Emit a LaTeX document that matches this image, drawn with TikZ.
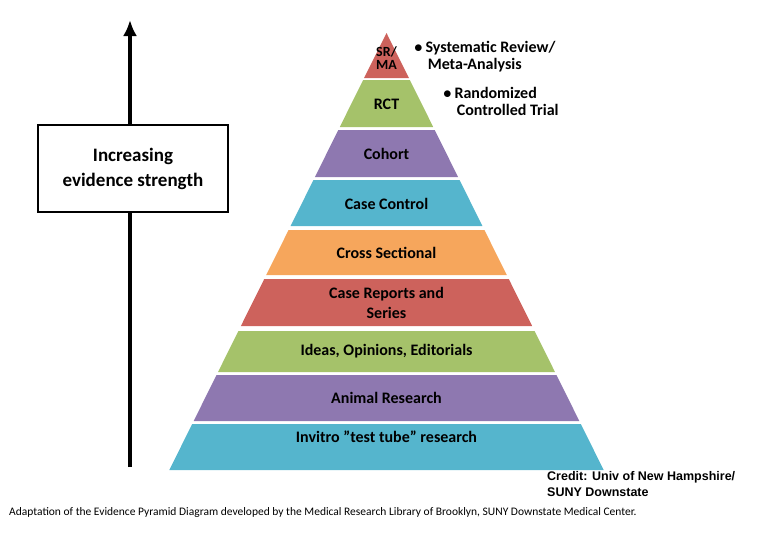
\documentclass[tikz,border=0pt]{standalone}
\usepackage{fontspec}
\usetikzlibrary{arrows.meta}
\setmainfont{Carlito}
\newfontfamily\arialf{Liberation Sans}
\definecolor{cred}{HTML}{CD625C}
\definecolor{cgreen}{HTML}{A5C26A}
\definecolor{cpurple}{HTML}{8E78B0}
\definecolor{cblue}{HTML}{55B5CD}
\definecolor{corange}{HTML}{F6A65C}
\begin{document}
\begin{tikzpicture}[x=1pt,y=-1pt,
  lbl/.style={font=\bfseries\fontsize{16}{17}\selectfont,align=center,inner sep=0pt}]
\useasboundingbox (0,0) rectangle (773,536);
\def\cx{386.5}
\foreach \t/\b/\c in {80/127/cgreen,130/177/cpurple,180/226/cblue,230/275/corange,279/326/cred,331/372/cgreen,375/421/cpurple,424/470/cblue}{
  \pgfmathsetmacro{\wt}{0.497*(\t-33)}
  \pgfmathsetmacro{\wb}{0.497*(\b-33)}
  \fill[\c] (\cx-\wt,\t) -- (\cx+\wt,\t) -- (\cx+\wb,\b) -- (\cx-\wb,\b) -- cycle;
}
\fill[cred] (\cx,33) -- (\cx+22.4,78) -- (\cx-22.4,78) -- cycle;
\node[lbl,font=\bfseries\fontsize{14}{13}\selectfont] (sr) at (\cx,58) {SR/\\MA};
\node[lbl] (rct) at (\cx,104) {RCT};
\node[lbl] (coh) at (\cx,154) {Cohort};
\node[lbl] (cc) at (\cx,204) {Case Control};
\node[lbl] (cs) at (\cx,253) {Cross Sectional};
\node[lbl,font=\bfseries\fontsize{16}{20}\selectfont] (cr) at (\cx,303) {Case Reports and\\Series};
\node[lbl] (io) at (\cx,351) {Ideas, Opinions, Editorials};
\node[lbl] (ar) at (\cx,398) {Animal Research};
\node[lbl] (iv) at (\cx,437) {Invitro "test tube" research};
\node[lbl,align=left,anchor=north west] (sys) at (414,41) {$\bullet$\,Systematic Review/\\\hspace{0.85em}Meta-Analysis};
\node[lbl,align=left,anchor=north west] (rand) at (443,87) {$\bullet$\,Randomized\\\hspace{0.85em}Controlled Trial};
\coordinate (a0) at (130,467);
\coordinate (a1) at (130,20);
\draw[line width=3.5pt,-{Latex[length=16pt,width=14pt]}] (a0) -- (a1);
\node[draw,line width=1.2pt,fill=white,minimum width=190pt,minimum height=87pt,font=\bfseries\fontsize{19}{25}\selectfont,align=center] (box) at (133,168.5) {Increasing\\evidence strength};
\node[anchor=north west,font=\arialf\bfseries\fontsize{12.5}{16}\selectfont,align=left,inner sep=0pt] (cred) at (547,471) {Credit: Univ of New Hampshire/\\SUNY Downstate};
\node[anchor=west,font=\fontsize{11.5}{13}\selectfont,inner sep=0pt] (cap) at (9,512) {Adaptation of the Evidence Pyramid Diagram developed by the Medical Research Library of Brooklyn, SUNY Downstate Medical Center.};
\end{tikzpicture}
\end{document}
